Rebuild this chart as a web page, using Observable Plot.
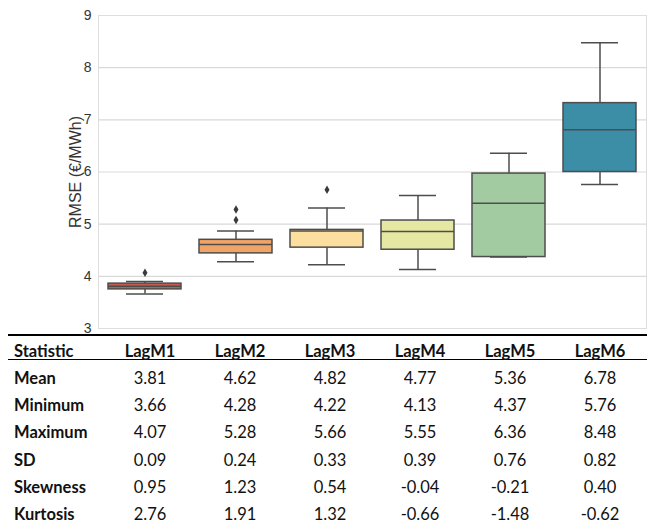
<!DOCTYPE html>
<html>
<head>
<meta charset="utf-8">
<script src="https://cdn.jsdelivr.net/npm/d3@7"></script>
<script src="https://cdn.jsdelivr.net/npm/@observablehq/plot@0.6"></script>
<style>
  html, body { margin: 0; padding: 0; background: #fff; }
  #wrap { position: relative; width: 647px; height: 526px; overflow: hidden; }
  #chart { position: absolute; left: 0; top: 0; }
  #tbl { position: absolute; left: 8px; top: 334px; width: 639px; font-family: Lato, "Open Sans", sans-serif; font-size: 16.5px; color: #111; }
  #tbl .row { display: flex; }
  #tbl .cell { width: 90px; text-align: center; }
  #tbl .cell.first { width: 97px; text-align: left; padding-left: 6px; box-sizing: border-box; font-weight: bold; }
  #tbl .head { border-top: 2px solid #000; border-bottom: 1.5px solid #000; padding-top: 7px; height: 16px; line-height: 16px; font-weight: bold; }
  #tbl .head .cell { font-weight: bold; }
  #tbl .body { padding-top: 5px; }
  #tbl .body .row { height: 27.2px; line-height: 27.2px; }
</style>
</head>
<body>
<div id="wrap">
  <div id="chart"></div>
  <div id="tbl"></div>
</div>
<script>
// ---- Box plot data ----
const categories = ["LagM1", "LagM2", "LagM3", "LagM4", "LagM5", "LagM6"];
const boxColors = ["#c95a50", "#f2a466", "#fcdf9e", "#e5e8a3", "#a2cba2", "#3c8da6"];
const q1 = [3.75, 4.44, 4.55, 4.51, 4.37, 6.00];
const median = [3.81, 4.61, 4.87, 4.86, 5.40, 6.81];
const q3 = [3.86, 4.70, 4.89, 5.07, 5.97, 7.32];
const whiskerLow = [3.66, 4.28, 4.22, 4.13, 4.37, 5.76];
const whiskerHigh = [3.90, 4.87, 5.31, 5.55, 6.36, 8.48];
const outlierCategory = ["LagM1", "LagM2", "LagM2", "LagM3"];
const outlierValue = [4.07, 5.28, 5.08, 5.66];
const yTicks = [3, 4, 5, 6, 7, 8, 9];
const yLabel = "RMSE (€/MWh)";

// ---- Table data ----
const statNames = ["Mean", "Minimum", "Maximum", "SD", "Skewness", "Kurtosis"];
const statMean = ["3.81", "4.62", "4.82", "4.77", "5.36", "6.78"];
const statMin = ["3.66", "4.28", "4.22", "4.13", "4.37", "5.76"];
const statMax = ["4.07", "5.28", "5.66", "5.55", "6.36", "8.48"];
const statSD = ["0.09", "0.24", "0.33", "0.39", "0.76", "0.82"];
const statSkew = ["0.95", "1.23", "0.54", "-0.04", "-0.21", "0.40"];
const statKurt = ["2.76", "1.91", "1.32", "-0.66", "-1.48", "-0.62"];

const boxes = categories.map((c, i) => ({
  cat: c, q1: q1[i], med: median[i], q3: q3[i], lo: whiskerLow[i], hi: whiskerHigh[i], color: boxColors[i]
}));
const outliers = outlierCategory.map((c, i) => ({cat: c, v: outlierValue[i]}));

const edge = "#4d4d4d";
const axisFont = "'Liberation Sans', Arial, sans-serif";

const chart = Plot.plot({
  width: 647,
  height: 336,
  marginTop: 15,
  marginBottom: 8,
  marginLeft: 98,
  marginRight: 1,
  style: { fontFamily: axisFont, fontSize: "14px", color: "#333", background: "#fff" },
  x: { domain: categories, paddingInner: 0.2, paddingOuter: 0.1, axis: null },
  y: { domain: [3, 9], ticks: yTicks, tickFormat: d => String(d), label: null },
  marks: [
    Plot.gridY(yTicks, { stroke: "#d9d9d9", strokeOpacity: 1, strokeWidth: 1.2 }),
    Plot.frame({ stroke: "#dedede", strokeWidth: 1 }),
    Plot.axisY(yTicks, { tickSize: 0, tickPadding: 7, fontSize: 14, fontFamily: axisFont, fill: "#333", label: null, tickFormat: d => String(d) }),
    Plot.text([yLabel], { frameAnchor: "left", rotate: -90, dx: -23, fontSize: 16, fontFamily: axisFont, fill: "#333", textAnchor: "middle" }),
    Plot.ruleX(boxes, { x: "cat", y1: "q3", y2: "hi", stroke: edge, strokeWidth: 1.5 }),
    Plot.ruleX(boxes, { x: "cat", y1: "lo", y2: "q1", stroke: edge, strokeWidth: 1.5 }),
    Plot.barY(boxes, { x: "cat", y1: "q1", y2: "q3", fill: "color", stroke: edge, strokeWidth: 1.5 }),
    Plot.tickY(boxes, { x: "cat", y: "med", stroke: edge, strokeWidth: 1.5 }),
    Plot.tickY(boxes, { x: "cat", y: "hi", stroke: edge, strokeWidth: 1.5, insetLeft: 18, insetRight: 18 }),
    Plot.tickY(boxes, { x: "cat", y: "lo", stroke: edge, strokeWidth: 1.5, insetLeft: 18, insetRight: 18 }),
    Plot.dot(outliers, { x: "cat", y: "v", symbol: "diamond", r: 2.6, fill: "#3a3a3a", stroke: null })
  ]
});
document.getElementById("chart").appendChild(chart);

// ---- Build table ----
const tbl = document.getElementById("tbl");
const rowsData = [statMean, statMin, statMax, statSD, statSkew, statKurt];
let html = '<div class="row head"><div class="cell first">Statistic</div>' +
  categories.map(c => `<div class="cell">${c}</div>`).join("") + '</div><div class="body">';
statNames.forEach((name, i) => {
  html += `<div class="row"><div class="cell first">${name}</div>` +
    rowsData[i].map(v => `<div class="cell">${v}</div>`).join("") + '</div>';
});
html += '</div>';
tbl.innerHTML = html;
</script>
</body>
</html>
